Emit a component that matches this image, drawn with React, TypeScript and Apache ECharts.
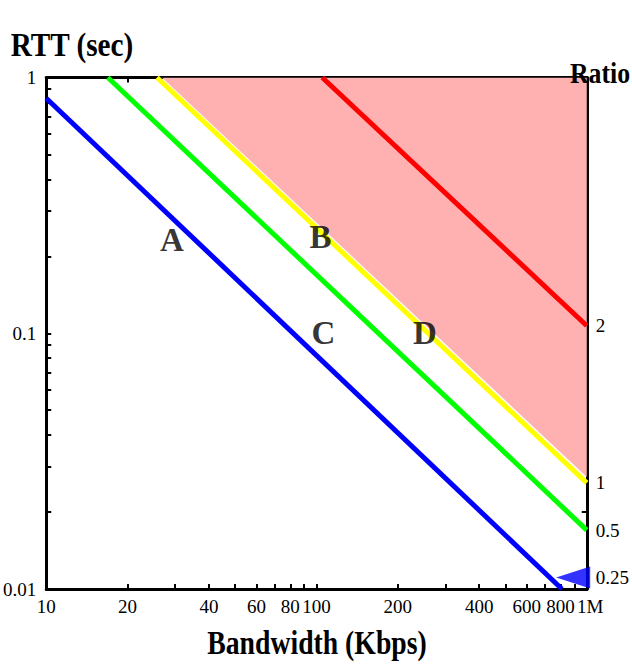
import React, { useEffect, useRef } from 'react';
import * as echarts from 'echarts';

// Axis ticks and labels
const xTickValues = [10, 20, 30, 40, 50, 60, 70, 80, 90, 100, 200, 300, 400, 500, 600, 700, 800, 900, 1000];
const xLabelValues = [10, 20, 40, 60, 80, 100, 200, 400, 600, 800, 1000];
const xLabelTexts = ['10', '20', '40', '60', '80', '100', '200', '400', '600', '800', '{m|1M}'];
const yTickValues = [0.01, 0.02, 0.03, 0.04, 0.05, 0.06, 0.07, 0.08, 0.09, 0.1, 0.2, 0.3, 0.4, 0.5, 0.6, 0.7, 0.8, 0.9, 1];
const yLabelValues = [0.01, 0.1, 1];
const yLabelTexts = ['0.01', '0.1', '1'];
const ratioValues = [0.107, 0.026, 0.017, 0.0111];
const ratioTexts = ['2', '1', '0.5', '0.25'];

// Lines (Bandwidth Kbps, RTT sec)
const ratio025Line = [[10, 0.83], [809, 0.01]];
const ratio05Line = [[16.9, 1], [1000, 0.017]];
const ratio1Line = [[25.7, 1], [1000, 0.026]];
const ratio2Line = [[105, 1], [1000, 0.107]];
const shadedEdge = [[26.8, 1], [1000, 0.0274]];

// Point labels
const pointNames = ['A', 'B', 'C', 'D'];
const pointBandwidth = [29.2, 103.5, 106, 252];
const pointRtt = [0.2315, 0.2378, 0.1, 0.1];

// Arrow marking ratio 0.25
const arrowPoint = [891, 0.0111];

const FONT = '"Liberation Serif", "Times New Roman", serif';

function nearestText(v: number, vals: number[], texts: string[]) {
  let best = -1;
  let bd = Infinity;
  vals.forEach((c, i) => {
    const d = Math.abs(Math.log10(v) - Math.log10(c));
    if (d < bd) { bd = d; best = i; }
  });
  return bd < 0.005 ? texts[best] : '';
}

export default function App() {
  const ref = useRef<HTMLDivElement>(null);
  useEffect(() => {
    if (!ref.current) return;
    const chart = echarts.init(ref.current, null, { renderer: 'svg' });
    const axisLine = { show: true, onZero: false, lineStyle: { color: '#000', width: 3 } };
    const tickStyle = { color: '#000', width: 2 };
    const lineSeries = (data: number[][], color: string) => ({
      type: 'line',
      data,
      showSymbol: false,
      symbol: 'none',
      lineStyle: { color, width: 5 },
      z: 3,
      xAxisIndex: 0,
      yAxisIndex: 0,
    });
    chart.setOption({
      animation: false,
      grid: { left: 46, right: 44, top: 77.5, bottom: 76, containLabel: false },
      xAxis: [
        {
          type: 'log', logBase: 10, min: 10, max: 1000, position: 'bottom',
          axisLine,
          axisTick: { show: true, inside: true, length: 5, lineStyle: tickStyle, customValues: xTickValues },
          axisLabel: {
            customValues: xLabelValues,
            formatter: (v: number) => nearestText(v, xLabelValues, xLabelTexts),
            fontFamily: FONT, fontSize: 19, color: '#000', margin: 8,
            rich: { m: { fontFamily: FONT, fontSize: 19, color: '#000', padding: [0, 0, 0, 7] } },
          },
          splitLine: { show: false },
          minorTick: { show: false },
        },
        {
          type: 'log', logBase: 10, min: 10, max: 1000, position: 'top',
          axisLine,
          axisTick: { show: true, inside: true, length: 5, lineStyle: tickStyle, customValues: xTickValues },
          axisLabel: { show: false },
          splitLine: { show: false },
        },
      ],
      yAxis: [
        {
          type: 'log', logBase: 10, min: 0.01, max: 1, position: 'left',
          axisLine,
          axisTick: { show: true, inside: true, length: 5, lineStyle: tickStyle, customValues: yTickValues },
          axisLabel: {
            customValues: yLabelValues,
            formatter: (v: number) => nearestText(v, yLabelValues, yLabelTexts),
            fontFamily: FONT, fontSize: 19, color: '#000', margin: 10,
          },
          splitLine: { show: false },
        },
        {
          type: 'log', logBase: 10, min: 0.01, max: 1, position: 'right',
          axisLine,
          axisTick: { show: true, inside: true, length: 5, lineStyle: tickStyle, customValues: yTickValues },
          axisLabel: {
            customValues: ratioValues,
            formatter: (v: number) => nearestText(v, ratioValues, ratioTexts),
            fontFamily: FONT, fontSize: 19, color: '#000', margin: 9,
          },
          splitLine: { show: false },
        },
      ],
      graphic: [
        { type: 'text', x: 72, y: 45, z: 100, scaleX: 0.86, style: { text: 'RTT (sec)', fontFamily: FONT, fontWeight: 'bold', fontSize: 34, fill: '#000', textAlign: 'center', textVerticalAlign: 'middle' } },
        { type: 'text', x: 600, y: 73, z: 100, scaleX: 0.86, style: { text: 'Ratio', fontFamily: FONT, fontWeight: 'bold', fontSize: 30, fill: '#000', textAlign: 'center', textVerticalAlign: 'middle' } },
        { type: 'text', x: 317, y: 643, z: 100, scaleX: 0.84, style: { text: 'Bandwidth (Kbps)', fontFamily: FONT, fontWeight: 'bold', fontSize: 33, fill: '#000', textAlign: 'center', textVerticalAlign: 'middle' } },
      ],
      series: [
        {
          type: 'line',
          data: shadedEdge,
          showSymbol: false,
          symbol: 'none',
          lineStyle: { width: 0, opacity: 0 },
          areaStyle: { color: '#ffb0b0', opacity: 1, origin: 'end' },
          z: 1,
        },
        lineSeries(ratio025Line, '#0000ff'),
        lineSeries(ratio05Line, '#00ff00'),
        lineSeries(ratio1Line, '#ffff00'),
        lineSeries(ratio2Line, '#ff0000'),
        {
          type: 'scatter',
          data: pointNames.map((n, i) => ({ name: n, value: [pointBandwidth[i], pointRtt[i]] })),
          symbolSize: 0,
          label: {
            show: true, position: 'inside', formatter: '{b}',
            fontFamily: FONT, fontWeight: 'bold', fontSize: 33, color: '#000',
          },
          z: 5,
        },
        {
          type: 'scatter',
          data: [arrowPoint],
          symbol: 'triangle',
          symbolRotate: 90,
          symbolSize: [22, 34],
          itemStyle: { color: '#0000ff' },
          clip: false,
          z: 6,
        },
      ],
    });
    return () => chart.dispose();
  }, []);
  return <div ref={ref} style={{ position: 'absolute', left: 0, top: 0, width: 632, height: 665 }} />;
}
